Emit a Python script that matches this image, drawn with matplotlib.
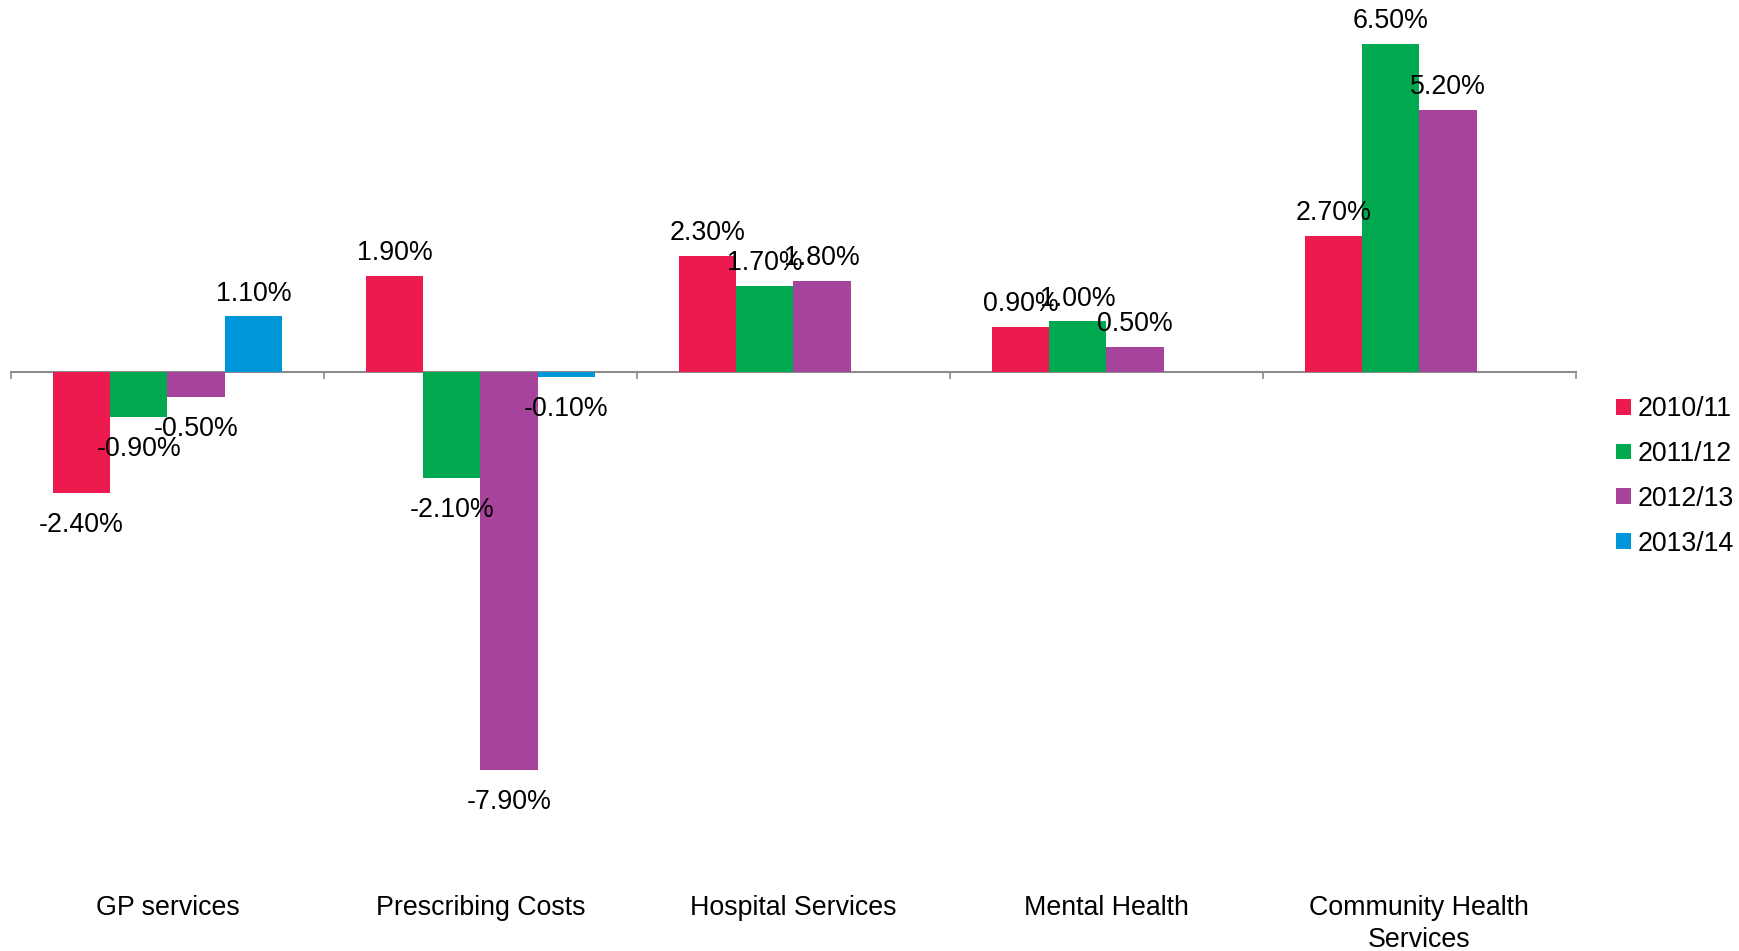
import numpy as np
import matplotlib.pyplot as plt
from matplotlib.patches import Patch
from matplotlib import transforms

plt.rcParams['font.family'] = ['Liberation Sans', 'DejaVu Sans']

categories = ["GP services", "Prescribing Costs", "Hospital Services",
              "Mental Health", "Community Health\nServices"]
years = ["2010/11", "2011/12", "2012/13", "2013/14"]
# % change per year (NaN = no bar)
v_2010 = [-2.4, 1.9, 2.3, 0.9, 2.7]
v_2011 = [-0.9, -2.1, 1.7, 1.0, 6.5]
v_2012 = [-0.5, -7.9, 1.8, 0.5, 5.2]
v_2013 = [1.1, -0.1, np.nan, np.nan, np.nan]
colors = ["#ED1A50", "#00A850", "#A5449A", "#0097DA"]

series = [v_2010, v_2011, v_2012, v_2013]
fs = 19.3

fig = plt.figure(figsize=(17.4, 9.51), dpi=100)
ax = fig.add_axes([0.0063, 0.0789, 0.8994, 0.9011])

x = np.arange(len(categories))
w = 0.183
for i, vals in enumerate(series):
    pos = x + (i - 1.5) * w
    ax.bar(pos, vals, w, color=colors[i], edgecolor="none", zorder=2)
    for xp, v in zip(pos, vals):
        if np.isnan(v):
            continue
        off = 16.5 if v >= 0 else -23
        ax.annotate(f"{v:.2f}%", (xp, v), xytext=(0, off), textcoords="offset points",
                    ha="center", va="center", fontsize=fs, zorder=3)

ax.set_xlim(-0.5, len(categories) - 0.5)
ax.set_ylim(-10, 7)

# axis line at zero with tick marks between categories
for s in ["top", "right", "left"]:
    ax.spines[s].set_visible(False)
ax.spines["bottom"].set_position(("data", 0))
ax.spines["bottom"].set_color("#8C8C8C")
ax.spines["bottom"].set_linewidth(1.5)
ax.spines["bottom"].set_zorder(1)
ax.set_yticks([])
ax.set_xticks(np.arange(len(categories) + 1) - 0.5)
ax.set_xticklabels([])
ax.tick_params(axis="x", direction="out", length=5, width=1.2, colors="#8C8C8C")

# category labels below the plot
tr = transforms.blended_transform_factory(ax.transData, fig.transFigure)
for xi, c in zip(x, categories):
    ax.text(xi, 0.059, c, transform=tr, ha="center", va="top", fontsize=fs,
            linespacing=1.3)

handles = [Patch(facecolor=c, edgecolor="none") for c in colors]
fig.legend(handles, years, loc="center left", bbox_to_anchor=(0.929, 0.499),
           frameon=False, fontsize=fs, handlelength=0.53, handleheight=0.53,
           handletextpad=0.25, labelspacing=0.70, borderpad=0, borderaxespad=0)

fig.savefig("out.png", dpi=100)
